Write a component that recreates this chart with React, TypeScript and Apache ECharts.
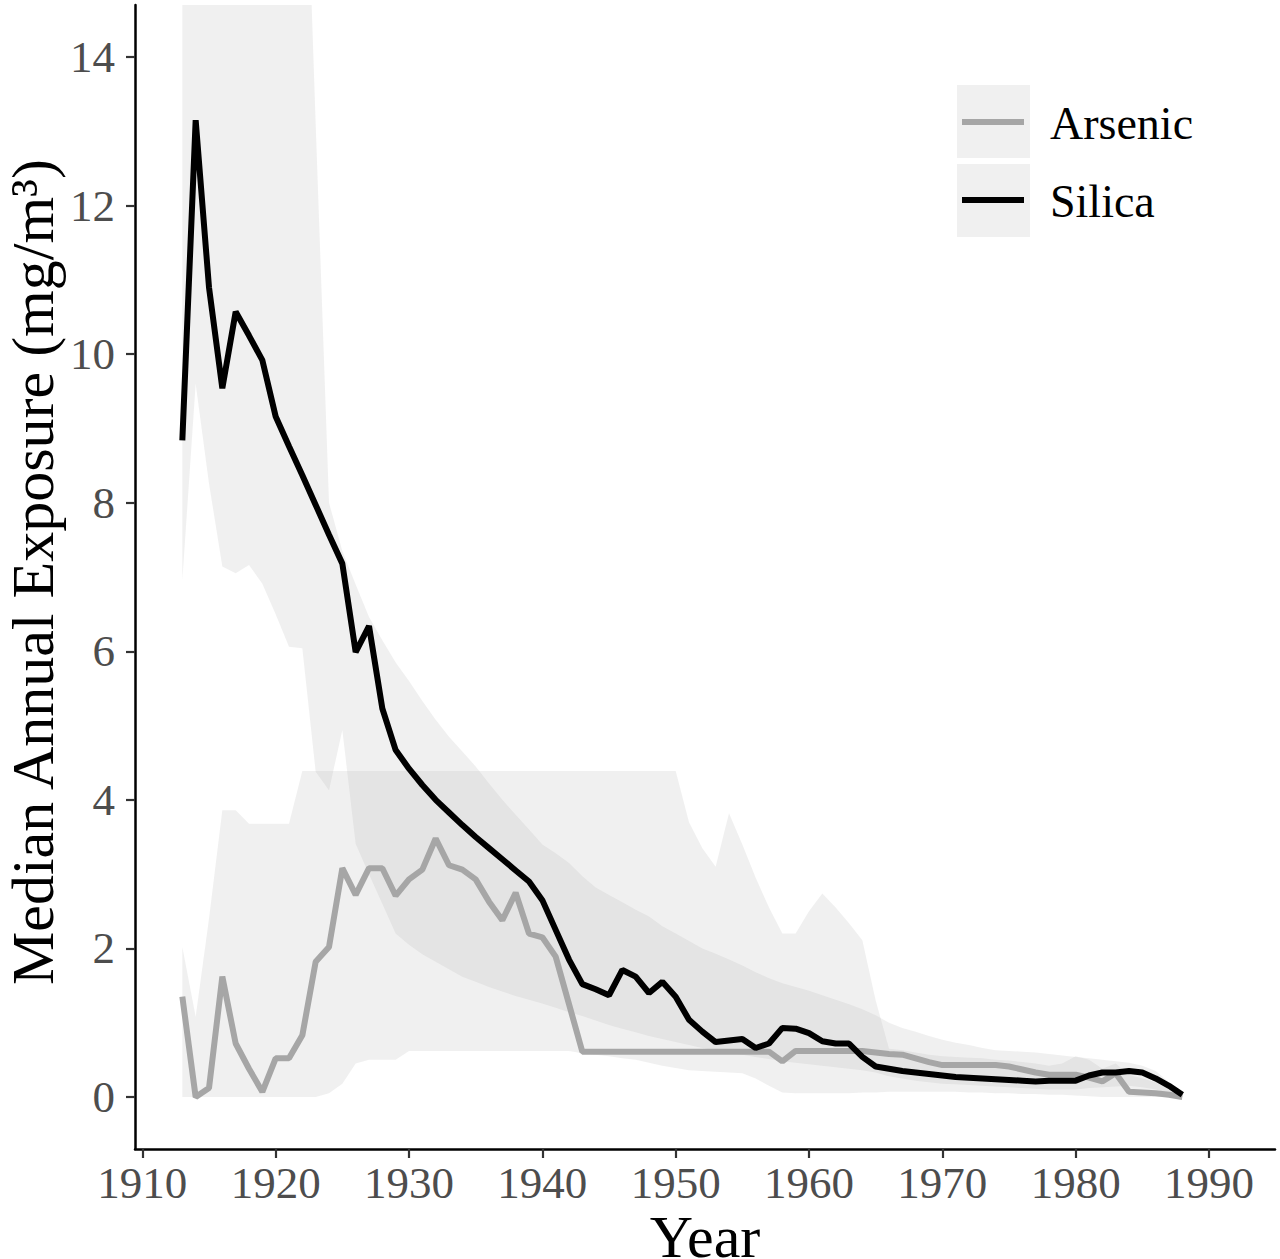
import React, { useEffect, useRef } from "react";
import * as echarts from "echarts";

const years = [
  1913, 1914, 1915, 1916, 1917, 1918, 1919, 1920, 1921, 1922,
  1923, 1924, 1925, 1926, 1927, 1928, 1929, 1930, 1931, 1932,
  1933, 1934, 1935, 1936, 1937, 1938, 1939, 1940, 1941, 1942,
  1943, 1944, 1945, 1946, 1947, 1948, 1949, 1950, 1951, 1952,
  1953, 1954, 1955, 1956, 1957, 1958, 1959, 1960, 1961, 1962,
  1963, 1964, 1965, 1966, 1967, 1968, 1969, 1970, 1971, 1972,
  1973, 1974, 1975, 1976, 1977, 1978, 1979, 1980, 1981, 1982,
  1983, 1984, 1985, 1986, 1987, 1988,
];

const silica = [
  8.84, 13.15, 10.9, 9.54, 10.57, 10.25, 9.92, 9.16, 8.76, 8.37,
  7.97, 7.57, 7.18, 5.99, 6.34, 5.23, 4.67, 4.42, 4.2, 4.0,
  3.83, 3.66, 3.5, 3.35, 3.2, 3.05, 2.9, 2.65, 2.25, 1.85,
  1.52, 1.45, 1.37, 1.71, 1.62, 1.4, 1.55, 1.35, 1.04, 0.88,
  0.74, 0.76, 0.78, 0.66, 0.72, 0.93, 0.92, 0.86, 0.75, 0.72,
  0.72, 0.54, 0.41, 0.38, 0.35, 0.33, 0.31, 0.29, 0.27, 0.26,
  0.25, 0.24, 0.23, 0.22, 0.21, 0.22, 0.22, 0.22, 0.29, 0.33,
  0.33, 0.35, 0.33, 0.25, 0.15, 0.03,
];

const arsenic = [
  1.35, 0.0, 0.12, 1.62, 0.72, 0.38, 0.07, 0.52, 0.52, 0.83,
  1.82, 2.02, 3.08, 2.72, 3.08, 3.08, 2.71, 2.93, 3.06, 3.48,
  3.12, 3.06, 2.93, 2.63, 2.38, 2.75, 2.2, 2.15, 1.89, 1.25,
  0.61, 0.61, 0.61, 0.61, 0.61, 0.61, 0.61, 0.61, 0.61, 0.61,
  0.61, 0.61, 0.61, 0.61, 0.61, 0.48, 0.62, 0.62, 0.62, 0.62,
  0.62, 0.62, 0.6, 0.58, 0.57, 0.52, 0.47, 0.43, 0.43, 0.43,
  0.43, 0.43, 0.41, 0.37, 0.33, 0.3, 0.3, 0.3, 0.26, 0.21,
  0.32, 0.07, 0.06, 0.05, 0.03, 0.0,
];

const silicaLower = [
  6.96, 9.6, 8.26, 7.14, 7.05, 7.16, 6.91, 6.5, 6.06, 6.04,
  4.38, 4.13, 4.94, 3.41, 3.0, 2.6, 2.2, 2.05, 1.92, 1.82,
  1.72, 1.62, 1.55, 1.48, 1.42, 1.36, 1.31, 1.26, 1.2, 1.14,
  1.09, 1.03, 0.97, 0.92, 0.87, 0.82, 0.78, 0.74, 0.7, 0.66,
  0.63, 0.6, 0.57, 0.54, 0.51, 0.48, 0.46, 0.44, 0.42, 0.4,
  0.38, 0.36, 0.33, 0.28, 0.25, 0.22, 0.2, 0.18, 0.17, 0.16,
  0.15, 0.14, 0.13, 0.12, 0.11, 0.1, 0.1, 0.1, 0.12, 0.13,
  0.14, 0.15, 0.13, 0.1, 0.05, 0.01,
];

const silicaUpper = [
  25, 25, 25, 25, 25, 25, 25, 25, 25, 18.4,
  13.1, 8.0, 7.35, 6.9, 6.46, 6.15, 5.85, 5.6, 5.33, 5.08,
  4.85, 4.65, 4.45, 4.22, 4.0, 3.8, 3.6, 3.4, 3.28, 3.15,
  2.97, 2.82, 2.72, 2.62, 2.52, 2.43, 2.3, 2.2, 2.1, 2.0,
  1.93, 1.85, 1.77, 1.68, 1.6, 1.53, 1.48, 1.43, 1.37, 1.31,
  1.25, 1.18, 1.1, 1.0, 0.93, 0.88, 0.82, 0.77, 0.73, 0.7,
  0.66, 0.63, 0.62, 0.61, 0.6, 0.58, 0.56, 0.54, 0.52, 0.5,
  0.48, 0.46, 0.42, 0.35, 0.2, 0.04,
];

const arsenicLower = [
  0, 0, 0, 0, 0, 0, 0, 0, 0, 0,
  0, 0.05, 0.18, 0.45, 0.5, 0.5, 0.5, 0.62, 0.62, 0.62,
  0.62, 0.62, 0.62, 0.62, 0.62, 0.62, 0.62, 0.62, 0.62, 0.62,
  0.59, 0.57, 0.55, 0.52, 0.5, 0.46, 0.42, 0.39, 0.36, 0.35,
  0.34, 0.33, 0.32, 0.25, 0.15, 0.06, 0.05, 0.05, 0.05, 0.05,
  0.05, 0.06, 0.06, 0.07, 0.07, 0.07, 0.07, 0.07, 0.07, 0.06,
  0.06, 0.05, 0.05, 0.04, 0.04, 0.03, 0.03, 0.02, 0.01, 0.0,
  0, 0, 0, 0, 0, 0,
];

const arsenicUpper = [
  2.02, 1.08, 2.4, 3.86, 3.86, 3.68, 3.68, 3.68, 3.68, 4.39,
  4.39, 4.39, 4.39, 4.39, 4.39, 4.39, 4.39, 4.39, 4.39, 4.39,
  4.39, 4.39, 4.39, 4.39, 4.39, 4.39, 4.39, 4.39, 4.39, 4.39,
  4.39, 4.39, 4.39, 4.39, 4.39, 4.39, 4.39, 4.39, 3.7, 3.35,
  3.1, 3.82, 3.4, 2.95, 2.55, 2.2, 2.2, 2.5, 2.74, 2.55,
  2.34, 2.11, 1.3, 0.65, 0.63, 0.6, 0.57, 0.55, 0.54, 0.53,
  0.52, 0.5, 0.49, 0.47, 0.45, 0.42, 0.45, 0.55, 0.5, 0.38,
  0.45, 0.3, 0.25, 0.2, 0.1, 0.01,
];

const xTicks = [1910, 1920, 1930, 1940, 1950, 1960, 1970, 1980, 1990];
const yTicks = [0, 2, 4, 6, 8, 10, 12, 14];
const legendNames = ["Arsenic", "Silica"];
const xTitle = "Year";
const yTitle = "Median Annual Exposure (mg/m\u00B3)";

const X_MIN = 1909.45;
const X_MAX = 1994.95;
const Y_MIN = -0.7;
const Y_MAX = 14.7;

const FONT = "'Liberation Serif', 'Times New Roman', serif";
const RIBBON = "rgba(180,180,180,0.2)";
const ARSENIC_COLOR = "#A6A6A6";
const SILICA_COLOR = "#000000";

// clip a polygon (data space) against the top of the value range
function clipTop(poly: number[][], ymax: number): number[][] {
  const out: number[][] = [];
  for (let i = 0; i < poly.length; i++) {
    const p = poly[i];
    const q = poly[(i + 1) % poly.length];
    const pIn = p[1] <= ymax;
    const qIn = q[1] <= ymax;
    if (pIn) out.push(p);
    if (pIn !== qIn) {
      const t = (ymax - p[1]) / (q[1] - p[1]);
      out.push([p[0] + t * (q[0] - p[0]), ymax]);
    }
  }
  return out;
}

function bandSeries(name: string, lower: number[], upper: number[]) {
  return {
    type: "custom",
    name,
    silent: true,
    clip: true,
    z: 1,
    data: years.map((y, i) => [y, lower[i], upper[i]]),
    encode: { x: 0, y: [1, 2] },
    renderItem: (params: any, api: any) => {
      if (params.dataIndex !== 0) return null;
      const poly: number[][] = [];
      for (let i = 0; i < years.length; i++) poly.push([years[i], upper[i]]);
      for (let i = years.length - 1; i >= 0; i--) poly.push([years[i], lower[i]]);
      const pts = clipTop(poly, Y_MAX).map((p) => api.coord(p));
      return {
        type: "polygon",
        shape: { points: pts },
        style: { fill: RIBBON, stroke: "none" },
      };
    },
  };
}

export default function App() {
  const ref = useRef<HTMLDivElement>(null);

  useEffect(() => {
    if (!ref.current) return;
    const chart = echarts.init(ref.current, null, { renderer: "svg" });

    const pairs = (vals: number[]) => years.map((y, i) => [y, vals[i]]);

    chart.setOption({
      animation: false,
      backgroundColor: "#ffffff",
      grid: {
        left: 135,
        right: 5,
        top: 5,
        bottom: 110,
        containLabel: false,
        outerBoundsMode: "none",
      },
      xAxis: {
        type: "value",
        min: X_MIN,
        max: X_MAX,
        splitLine: { show: false },
        axisLine: { show: true, onZero: false, lineStyle: { color: "#000", width: 2.5 } },
        axisTick: {
          show: true,
          length: 9,
          customValues: xTicks,
          lineStyle: { color: "#333", width: 2.2 },
        },
        axisLabel: {
          customValues: xTicks,
          formatter: (v: number) => String(Math.round(v)),
          color: "#4D4D4D",
          fontSize: 45,
          lineHeight: 44,
          fontFamily: FONT,
          margin: 12,
        },
      },
      yAxis: {
        type: "value",
        min: Y_MIN,
        max: Y_MAX,
        splitLine: { show: false },
        axisLine: { show: true, onZero: false, lineStyle: { color: "#000", width: 2.5 } },
        axisTick: {
          show: true,
          length: 9,
          customValues: yTicks,
          lineStyle: { color: "#333", width: 2.2 },
        },
        axisLabel: {
          customValues: yTicks,
          formatter: (v: number) => String(Math.round(v)),
          color: "#4D4D4D",
          fontSize: 45,
          fontFamily: FONT,
          margin: 20,
        },
      },
      series: [
        bandSeries("silicaRibbon", silicaLower, silicaUpper),
        bandSeries("arsenicRibbon", arsenicLower, arsenicUpper),
        {
          type: "line",
          name: legendNames[0],
          data: pairs(arsenic),
          symbol: "none",
          showSymbol: false,
          lineStyle: { color: ARSENIC_COLOR, width: 6 },
          z: 3,
        },
        {
          type: "line",
          name: legendNames[1],
          data: pairs(silica),
          symbol: "none",
          showSymbol: false,
          lineStyle: { color: SILICA_COLOR, width: 6 },
          z: 4,
        },
      ],
      graphic: [
        { type: "rect", shape: { x: 957, y: 85, width: 73, height: 73 }, style: { fill: "#F0F0F0" } },
        { type: "rect", shape: { x: 957, y: 164, width: 73, height: 73 }, style: { fill: "#F0F0F0" } },
        {
          type: "line",
          shape: { x1: 962, y1: 122, x2: 1024, y2: 122 },
          style: { stroke: ARSENIC_COLOR, lineWidth: 6 },
        },
        {
          type: "line",
          shape: { x1: 962, y1: 200, x2: 1024, y2: 200 },
          style: { stroke: SILICA_COLOR, lineWidth: 6 },
        },
        {
          type: "text",
          x: 1050,
          y: 123,
          style: {
            text: legendNames[0],
            fontSize: 46,
            fontFamily: FONT,
            fill: "#000",
            align: "left",
            verticalAlign: "middle",
          },
        },
        {
          type: "text",
          x: 1050,
          y: 201,
          style: {
            text: legendNames[1],
            fontSize: 46,
            fontFamily: FONT,
            fill: "#000",
            align: "left",
            verticalAlign: "middle",
          },
        },
        {
          type: "text",
          x: 705,
          y: 1237,
          style: {
            text: xTitle,
            fontSize: 60,
            lineHeight: 40,
            fontFamily: FONT,
            fill: "#000",
            align: "center",
            verticalAlign: "middle",
          },
        },
        {
          type: "text",
          x: 33,
          y: 572,
          rotation: Math.PI / 2,
          style: {
            text: yTitle,
            fontSize: 60,
            lineHeight: 56,
            fontFamily: FONT,
            fill: "#000",
            align: "center",
            verticalAlign: "middle",
          },
        },
      ],
    });

    return () => chart.dispose();
  }, []);

  return (
    <div
      ref={ref}
      style={{ position: "absolute", left: 0, top: 0, width: 1280, height: 1259, background: "#fff" }}
    />
  );
}
